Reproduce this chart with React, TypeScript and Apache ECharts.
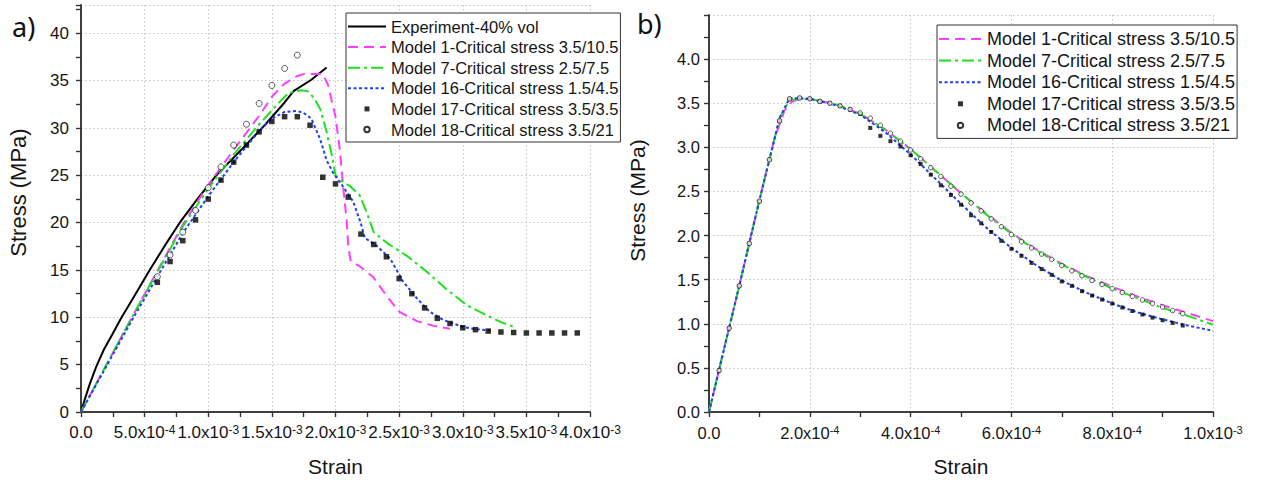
import React, { useEffect, useRef } from 'react';
import * as echarts from 'echarts';

type Pt = [number, number];

// Strain values are stored in units of 1e-3; stress in MPa.

// ---------- Panel a) ----------
const EXPERIMENT_A: Pt[] = [
  [0, 0], [0.03, 1.35], [0.07, 3.0], [0.12, 4.8], [0.18, 6.6], [0.25, 8.3], [0.315, 9.9],
  [0.43, 12.5], [0.54, 15.0], [0.66, 17.6], [0.776, 20.0], [0.92, 22.6], [1.063, 25.0],
  [1.26, 27.7], [1.45, 30.4], [1.6, 32.7], [1.67, 33.9], [1.81, 35.1], [1.93, 36.4],
];
const MODEL1_A: Pt[] = [
  [0, 0], [0.4, 10.0], [0.8, 19.8], [1.0, 24.0], [1.2, 27.7], [1.4, 31.3], [1.5, 33.3],
  [1.6, 34.7], [1.7, 35.5], [1.75, 35.7], [1.9, 35.7], [1.94, 34.6], [1.97, 32.9],
  [2.0, 31.2], [2.035, 27.6], [2.06, 23.8], [2.088, 20.2], [2.1, 17.5], [2.12, 15.9],
  [2.19, 15.4], [2.3, 14.2], [2.4, 12.3], [2.5, 10.6], [2.64, 9.6], [2.77, 9.1], [2.9, 8.8],
];
const MODEL7_A: Pt[] = [
  [0, 0], [0.4, 10.0], [0.8, 19.6], [1.0, 23.6], [1.2, 27.2], [1.4, 30.4], [1.55, 32.6],
  [1.63, 33.7], [1.73, 34.0], [1.78, 33.9], [1.83, 33.2], [1.88, 32.0], [1.93, 29.6],
  [1.97, 27.2], [2.0, 25.0], [2.035, 24.5], [2.11, 23.9], [2.19, 22.9], [2.245, 21.1],
  [2.3, 19.0], [2.4, 17.9], [2.56, 16.5], [2.72, 14.8], [2.87, 13.0], [3.03, 11.3],
  [3.19, 10.2], [3.3, 9.5], [3.42, 8.9],
];
const MODEL16_A: Pt[] = [
  [0, 0], [0.4, 9.7], [0.8, 18.9], [1.0, 22.8], [1.2, 26.4], [1.4, 29.7], [1.5, 31.0],
  [1.6, 31.7], [1.7, 31.8], [1.75, 31.6], [1.81, 31.0], [1.88, 28.8], [1.93, 26.6],
  [1.98, 25.3], [2.06, 23.8], [2.14, 22.2], [2.2, 19.9], [2.23, 18.4], [2.32, 17.6],
  [2.43, 16.2], [2.53, 13.8], [2.64, 12.0], [2.74, 10.6], [2.85, 9.7], [3.0, 9.0],
  [3.1, 8.75], [3.22, 8.6],
];
const MODEL17_A_STRAIN = [
  0.6, 0.7, 0.8, 0.9, 1.0, 1.1, 1.2, 1.3, 1.4, 1.5, 1.6, 1.7, 1.8, 1.9, 2.0, 2.1, 2.2,
  2.3, 2.4, 2.5, 2.6, 2.7, 2.8, 2.9, 3.0, 3.1, 3.2, 3.3, 3.4, 3.5, 3.6, 3.7, 3.8, 3.9,
];
const MODEL17_A_STRESS = [
  13.7, 15.9, 18.1, 20.3, 22.5, 24.5, 26.4, 28.2, 29.6, 30.7, 31.2, 31.2, 30.3, 24.8,
  24.1, 22.7, 18.8, 17.7, 16.4, 14.1, 12.5, 11.0, 9.9, 9.35, 8.9, 8.7, 8.55, 8.45, 8.4,
  8.35, 8.35, 8.35, 8.35, 8.35,
];
const MODEL18_A_STRAIN = [0.6, 0.7, 0.8, 0.9, 1.0, 1.1, 1.2, 1.3, 1.4, 1.5, 1.6, 1.7];
const MODEL18_A_STRESS = [14.3, 16.6, 19.0, 21.3, 23.7, 25.9, 28.2, 30.4, 32.6, 34.5, 36.3, 37.7];

// ---------- Panel b) ----------
const MODEL1_B: Pt[] = [
  [0, 0], [0.02, 0.48], [0.06, 1.43], [0.1, 2.4], [0.13, 3.1], [0.15, 3.42], [0.165, 3.52],
  [0.18, 3.55], [0.2, 3.55], [0.25, 3.49], [0.3, 3.38], [0.35, 3.2], [0.4, 2.98],
  [0.45, 2.73], [0.5, 2.48], [0.55, 2.25], [0.6, 2.03], [0.65, 1.84], [0.7, 1.68],
  [0.75, 1.54], [0.8, 1.42], [0.85, 1.31], [0.9, 1.21], [0.95, 1.12], [1.0, 1.03],
];
const MODEL7_B: Pt[] = [
  [0, 0], [0.02, 0.48], [0.06, 1.43], [0.1, 2.4], [0.14, 3.33], [0.16, 3.54], [0.2, 3.55],
  [0.25, 3.49], [0.3, 3.38], [0.35, 3.2], [0.4, 2.98], [0.45, 2.73], [0.5, 2.48],
  [0.55, 2.24], [0.6, 2.02], [0.65, 1.83], [0.7, 1.67], [0.75, 1.53], [0.8, 1.4],
  [0.85, 1.29], [0.9, 1.18], [0.95, 1.09], [1.0, 0.99],
];
const MODEL16_B: Pt[] = [
  [0, 0], [0.02, 0.48], [0.06, 1.43], [0.1, 2.4], [0.14, 3.33], [0.16, 3.56], [0.2, 3.55],
  [0.25, 3.48], [0.3, 3.37], [0.35, 3.17], [0.4, 2.92], [0.45, 2.64], [0.5, 2.36],
  [0.55, 2.09], [0.6, 1.86], [0.65, 1.66], [0.7, 1.49], [0.75, 1.35], [0.8, 1.23],
  [0.85, 1.13], [0.9, 1.05], [0.95, 0.98], [1.0, 0.92],
];
const MARKER_B_STRAIN = [
  0.02, 0.04, 0.06, 0.08, 0.1, 0.12, 0.14, 0.16, 0.18, 0.2, 0.22, 0.24, 0.26, 0.28, 0.3,
  0.32, 0.34, 0.36, 0.38, 0.4, 0.42, 0.44, 0.46, 0.48, 0.5, 0.52, 0.54, 0.56, 0.58, 0.6,
  0.62, 0.64, 0.66, 0.68, 0.7, 0.72, 0.74, 0.76, 0.78, 0.8, 0.82, 0.84, 0.86, 0.88, 0.9,
  0.92, 0.94,
];
const MODEL17_B_STRESS = [
  0.47, 0.95, 1.43, 1.91, 2.39, 2.86, 3.3, 3.55, 3.56, 3.55, 3.52, 3.5, 3.47, 3.43, 3.38,
  3.22, 3.13, 3.07, 3.01, 2.91, 2.81, 2.69, 2.57, 2.46, 2.35, 2.23, 2.14, 2.04, 1.94, 1.85,
  1.77, 1.69, 1.62, 1.555, 1.48, 1.43, 1.37, 1.32, 1.275, 1.23, 1.185, 1.145, 1.105, 1.07,
  1.04, 1.01, 0.98,
];
const MODEL18_B_STRESS = [
  0.47, 0.95, 1.43, 1.91, 2.39, 2.86, 3.3, 3.55, 3.56, 3.55, 3.52, 3.5, 3.47, 3.43, 3.39,
  3.33, 3.25, 3.16, 3.07, 2.97, 2.87, 2.77, 2.67, 2.56, 2.47, 2.37, 2.28, 2.19, 2.1, 2.01,
  1.93, 1.86, 1.79, 1.73, 1.66, 1.6, 1.545, 1.49, 1.445, 1.4, 1.355, 1.31, 1.27, 1.23,
  1.19, 1.15, 1.115,
];

const NAME_EXP = 'Experiment-40% vol';
const NAME_M1 = 'Model 1-Critical stress 3.5/10.5';
const NAME_M7 = 'Model 7-Critical stress 2.5/7.5';
const NAME_M16 = 'Model 16-Critical stress 1.5/4.5';
const NAME_M17 = 'Model 17-Critical stress 3.5/3.5';
const NAME_M18 = 'Model 18-Critical stress 3.5/21';

const FONT = "'Liberation Sans', Arial, sans-serif";
const TEXT_C = '#151515';
const C_M1 = '#ff3dff';
const C_M7 = '#1fe01f';
const C_M16 = '#1f3ff0';

const zip = (xs: number[], ys: number[]): Pt[] => xs.map((x, i) => [x, ys[i]]);

const isMultiple = (v: number, step: number) => Math.abs(v / step - Math.round(v / step)) < 1e-6;

// value is strain in 1e-3 units
function sciLabel(v: number): string {
  if (Math.abs(v) < 1e-9) return '0.0';
  const s = v * 1e-3;
  const e = Math.floor(Math.log10(s) + 1e-9);
  const m = s / Math.pow(10, e);
  return `${m.toFixed(1)}x10{sup|${e}}`;
}

interface AxisCfg {
  grid: number; xMax: number; xStep: number; xLabelStep: number;
  yMax: number; yStep: number; yLabelStep: number; yDigits: number;
  labelSize: number; xMargin: number; yMargin: number;
  xNameGap: number; yNameGap: number; yNameSize: number; yNameShift: number;
}

function axesFor(c: AxisCfg) {
  const axisLine = { show: true, lineStyle: { color: '#333', width: 1.5 } };
  const tickStyle = { color: '#333', width: 1.2 };
  const grayGrid = { show: true, lineStyle: { color: '#c4c4c4', width: 1, type: [1.5, 2.5] as any } };
  const xAxes = [
    {
      gridIndex: c.grid, type: 'value', position: 'bottom', min: 0, max: c.xMax, interval: c.xStep,
      axisLine, axisTick: { show: true, inside: false, length: 5, lineStyle: tickStyle },
      splitLine: { show: false },
      axisLabel: {
        show: true, margin: c.xMargin, color: TEXT_C, fontFamily: FONT, fontSize: c.labelSize,
        formatter: (v: number) => (isMultiple(v, c.xLabelStep) ? sciLabel(v) : ''),
        rich: { sup: { fontSize: Math.round(c.labelSize * 0.68), fontFamily: FONT, color: TEXT_C, verticalAlign: 'top' } },
      },
      name: 'Strain', nameLocation: 'middle', nameGap: c.xNameGap,
      nameTextStyle: { fontFamily: FONT, fontSize: 21, color: TEXT_C },
    },
    {
      gridIndex: c.grid, type: 'value', position: 'top', min: 0, max: c.xMax, interval: c.xStep,
      axisLine, axisTick: { show: true, inside: true, length: 5, lineStyle: tickStyle },
      axisLabel: { show: false }, splitLine: { show: false },
    },
    {
      gridIndex: c.grid, type: 'value', position: 'bottom', min: 0, max: c.xMax, interval: c.xLabelStep,
      axisLine: { show: false }, axisTick: { show: false }, axisLabel: { show: false },
      splitLine: grayGrid,
    },
  ];
  const yAxes = [
    {
      gridIndex: c.grid, type: 'value', position: 'left', min: 0, max: c.yMax, interval: c.yStep,
      axisLine, axisTick: { show: true, inside: false, length: 5, lineStyle: tickStyle },
      splitLine: { show: false },
      axisLabel: {
        show: true, margin: c.yMargin, color: TEXT_C, fontFamily: FONT, fontSize: c.labelSize,
        formatter: (v: number) => (isMultiple(v, c.yLabelStep) && v <= c.yMax - c.yLabelStep * 0.5 ? v.toFixed(c.yDigits) : ''),
      },
      name: 'Stress (MPa)', nameLocation: 'middle', nameGap: c.yNameGap, nameRotate: 90,
      nameTextStyle: { fontFamily: FONT, fontSize: c.yNameSize, color: TEXT_C, padding: [0, 0, 0, c.yNameShift * 2] },
    },
    {
      gridIndex: c.grid, type: 'value', position: 'right', min: 0, max: c.yMax, interval: c.yStep,
      axisLine, axisTick: { show: true, inside: true, length: 5, lineStyle: tickStyle },
      axisLabel: { show: false }, splitLine: { show: false },
    },
    {
      gridIndex: c.grid, type: 'value', position: 'left', min: 0, max: c.yMax, interval: c.yLabelStep,
      axisLine: { show: false }, axisTick: { show: false }, axisLabel: { show: false },
      splitLine: grayGrid,
    },
  ];
  return { xAxes, yAxes };
}

function lineSeries(name: string, data: Pt[], axisIdx: number, color: string, type: any, width = 2) {
  return {
    name, type: 'line', data, xAxisIndex: axisIdx, yAxisIndex: axisIdx, symbol: 'none',
    showSymbol: false, lineStyle: { color, width, type }, itemStyle: { color },
    z: 3,
  };
}

function squareSeries(name: string, data: Pt[], axisIdx: number, size: number) {
  return {
    name, type: 'scatter', data, xAxisIndex: axisIdx, yAxisIndex: axisIdx, symbol: 'rect',
    symbolSize: size, itemStyle: { color: '#000' }, z: 4,
  };
}

function circleSeries(name: string, data: Pt[], axisIdx: number, size: number) {
  return {
    name, type: 'scatter', data, xAxisIndex: axisIdx, yAxisIndex: axisIdx, symbol: 'circle',
    symbolSize: size, itemStyle: { color: '#fff', borderColor: '#000', borderWidth: 0.8 }, z: 5,
  };
}

const DASH_M1 = [10, 6];
const DASH_M7 = [12, 4, 3, 4];
const DASH_M16 = [3, 2.5];

export default function App() {
  const ref = useRef<HTMLDivElement>(null);

  useEffect(() => {
    if (!ref.current) return;
    const chart = echarts.init(ref.current, undefined, { renderer: 'svg' });

    const a = axesFor({
      grid: 0, xMax: 4, xStep: 0.25, xLabelStep: 0.5, yMax: 43, yStep: 2.5, yLabelStep: 5, yDigits: 0,
      labelSize: 17, xMargin: 12, yMargin: 12, xNameGap: 44, yNameGap: 52, yNameSize: 22, yNameShift: 16,
    });
    const b = axesFor({
      grid: 1, xMax: 1, xStep: 0.1, xLabelStep: 0.2, yMax: 4.5, yStep: 0.25, yLabelStep: 0.5, yDigits: 1,
      labelSize: 16.5, xMargin: 12, yMargin: 9, xNameGap: 44, yNameGap: 61, yNameSize: 21, yNameShift: 13,
    });

    const legendText = (size: number) => ({ fontFamily: FONT, fontSize: size, color: TEXT_C });
    const sqIcon = (w: number) => `path://M0,0M${w},14M${w / 2 - 2.5},4.5h5v5h-5z`;
    const ciIcon = (w: number) => `path://M0,0M${w},14M${w / 2 + 2.7},7A2.7,2.7,0,1,1,${w / 2 - 2.7},7A2.7,2.7,0,1,1,${w / 2 + 2.7},7Z`;
    const lineItem = (name: string) => ({ name, itemStyle: { opacity: 0 } });

    chart.setOption({
      animation: false,
      backgroundColor: '#fff',
      grid: [
        { left: 81, top: 5, width: 509, height: 408.5 },
        { left: 709, top: 15, width: 504, height: 399 },
      ],
      xAxis: [...a.xAxes, ...b.xAxes],
      yAxis: [...a.yAxes, ...b.yAxes],
      legend: [
        {
          orient: 'vertical', left: 346, top: 13, itemWidth: 38, itemHeight: 14, itemGap: 3.6,
          padding: [5, 2, 4, 1], borderColor: '#333', borderWidth: 1, backgroundColor: '#fff',
          selectedMode: false, textStyle: legendText(16.5),
          data: [
            lineItem(NAME_EXP), lineItem(NAME_M1), lineItem(NAME_M7), lineItem(NAME_M16),
            { name: NAME_M17, icon: sqIcon(38) }, { name: NAME_M18, icon: ciIcon(38) },
          ],
        },
        {
          orient: 'vertical', left: 937, top: 25, itemWidth: 43, itemHeight: 14, itemGap: 3.6,
          padding: [5, 2, 4, 1], borderColor: '#333', borderWidth: 1, backgroundColor: '#fff',
          selectedMode: false, textStyle: legendText(18),
          data: [
            lineItem(NAME_M1), lineItem(NAME_M7), lineItem(NAME_M16),
            { name: NAME_M17, icon: sqIcon(43) }, { name: NAME_M18, icon: ciIcon(43) },
          ],
        },
      ],
      graphic: [
        { type: 'text', left: 12, top: 13, style: { text: 'a)', font: "27px 'Noto Sans', sans-serif", fill: '#111' } },
        { type: 'text', left: 637, top: 10, style: { text: 'b)', font: "27px 'Noto Sans', sans-serif", fill: '#111' } },
      ],
      series: [
        lineSeries(NAME_EXP, EXPERIMENT_A, 0, '#000', 'solid', 2),
        lineSeries(NAME_M1, MODEL1_A, 0, C_M1, DASH_M1),
        lineSeries(NAME_M7, MODEL7_A, 0, C_M7, DASH_M7),
        lineSeries(NAME_M16, MODEL16_A, 0, C_M16, DASH_M16),
        squareSeries(NAME_M17, zip(MODEL17_A_STRAIN, MODEL17_A_STRESS), 0, 5.5),
        circleSeries(NAME_M18, zip(MODEL18_A_STRAIN, MODEL18_A_STRESS), 0, 6),
        lineSeries(NAME_M1, MODEL1_B, 3, C_M1, DASH_M1),
        lineSeries(NAME_M7, MODEL7_B, 3, C_M7, DASH_M7),
        lineSeries(NAME_M16, MODEL16_B, 3, C_M16, DASH_M16),
        squareSeries(NAME_M17, zip(MARKER_B_STRAIN, MODEL17_B_STRESS), 3, 4),
        circleSeries(NAME_M18, zip(MARKER_B_STRAIN, MODEL18_B_STRESS), 3, 4.5),
      ],
    });

    return () => chart.dispose();
  }, []);

  return <div ref={ref} style={{ position: 'fixed', left: 0, top: 0, width: 1261, height: 482 }} />;
}
